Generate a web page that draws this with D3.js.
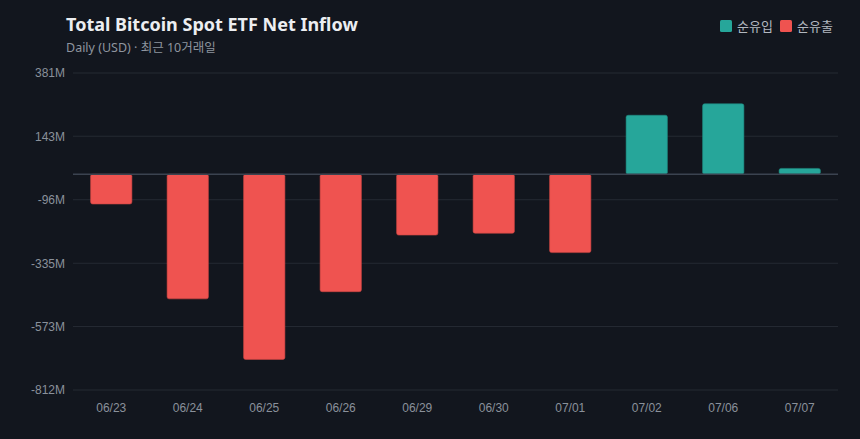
<!DOCTYPE html>
<html>
  <head>
    <meta charset="utf-8">
    <script src="https://cdn.jsdelivr.net/npm/d3@7"></script>
    <style>
      body { margin: 0; background: #12161e; }
      svg { display: block; font-family: "Noto Sans", "Noto Sans CJK KR", sans-serif; }
      .axis .domain { display: none; }
      .axis .tick text { fill: #8a919b; font-size: 12px; }
      .grid line { stroke: #252a33; stroke-width: 1; }
    </style>
  </head>
  <body>
    <svg width="860" height="439"></svg>
    <script>
      var dates = ['06/23', '06/24', '06/25', '06/26', '06/29', '06/30', '07/01', '07/02', '07/06', '07/07'];
      var flows = [-112, -469, -697, -442, -229, -222, -295, 222, 265, 22]; // M USD
      var yTicks = [381, 143, -96, -335, -573, -812];
      var legendItems = ['순유입', '순유출'];

      var svg = d3.select('svg');
      var margin = { top: 73, right: 22, bottom: 49, left: 73 };
      var width = +svg.attr('width');
      var height = +svg.attr('height');
      var innerW = width - margin.left - margin.right;
      var innerH = height - margin.top - margin.bottom;

      var up = '#26a69a', down = '#ef5350';

      var x = d3.scaleBand().domain(dates).range([0, innerW]).paddingInner(0.46).paddingOuter(0.23);
      var y = d3.scaleLinear().domain([-812, 381]).range([innerH, 0]);

      var g = svg.append('g').attr('transform', `translate(${margin.left},${margin.top})`);

      // grid
      g.append('g').attr('class', 'grid')
        .selectAll('line').data(yTicks).enter().append('line')
          .attr('x1', 0).attr('x2', innerW)
          .attr('y1', d => y(d)).attr('y2', d => y(d));

      var yAxis = d3.axisLeft(y).tickValues(yTicks).tickSize(0).tickPadding(8)
        .tickFormat(d => d + 'M');
      g.append('g').attr('class', 'axis').call(yAxis);

      var xAxis = d3.axisBottom(x).tickSize(0).tickPadding(13);
      g.append('g').attr('class', 'axis')
        .attr('transform', `translate(0,${innerH})`)
        .call(xAxis);

      // bars
      g.selectAll('.bar').data(flows).enter().append('rect')
        .attr('class', 'bar')
        .attr('x', (d, i) => x(dates[i]))
        .attr('width', x.bandwidth())
        .attr('y', d => y(Math.max(0, d)))
        .attr('height', d => Math.abs(y(d) - y(0)))
        .attr('rx', 2)
        .attr('fill', d => d >= 0 ? up : down)
        .attr('stroke', d => d >= 0 ? '#1f8a80' : '#c94441')
        .attr('stroke-width', 0.6);

      // zero line
      g.append('line')
        .attr('x1', 0).attr('x2', innerW)
        .attr('y1', y(0)).attr('y2', y(0))
        .attr('stroke', '#3b4350').attr('stroke-width', 1.5);

      // title
      svg.append('text')
        .attr('x', 66).attr('y', 31)
        .attr('fill', '#eceef1')
        .attr('font-size', 18).attr('font-weight', 700)
        .text('Total Bitcoin Spot ETF Net Inflow');
      svg.append('text')
        .attr('x', 66).attr('y', 52)
        .attr('fill', '#8e959f')
        .attr('font-size', 12.5)
        .text('Daily (USD) · 최근 10거래일');

      // legend
      var lg = svg.append('g').attr('transform', 'translate(720,20)');
      var li = lg.selectAll('g').data(legendItems).enter().append('g')
        .attr('transform', (d, i) => `translate(${i * 60},0)`);
      li.append('rect')
        .attr('width', 12).attr('height', 12).attr('rx', 1.5)
        .attr('fill', (d, i) => i === 0 ? up : down);
      li.append('text')
        .attr('x', 17).attr('y', 11)
        .attr('fill', '#b3b8c0').attr('font-size', 13)
        .text(d => d);
    </script>
  </body>
</html>
